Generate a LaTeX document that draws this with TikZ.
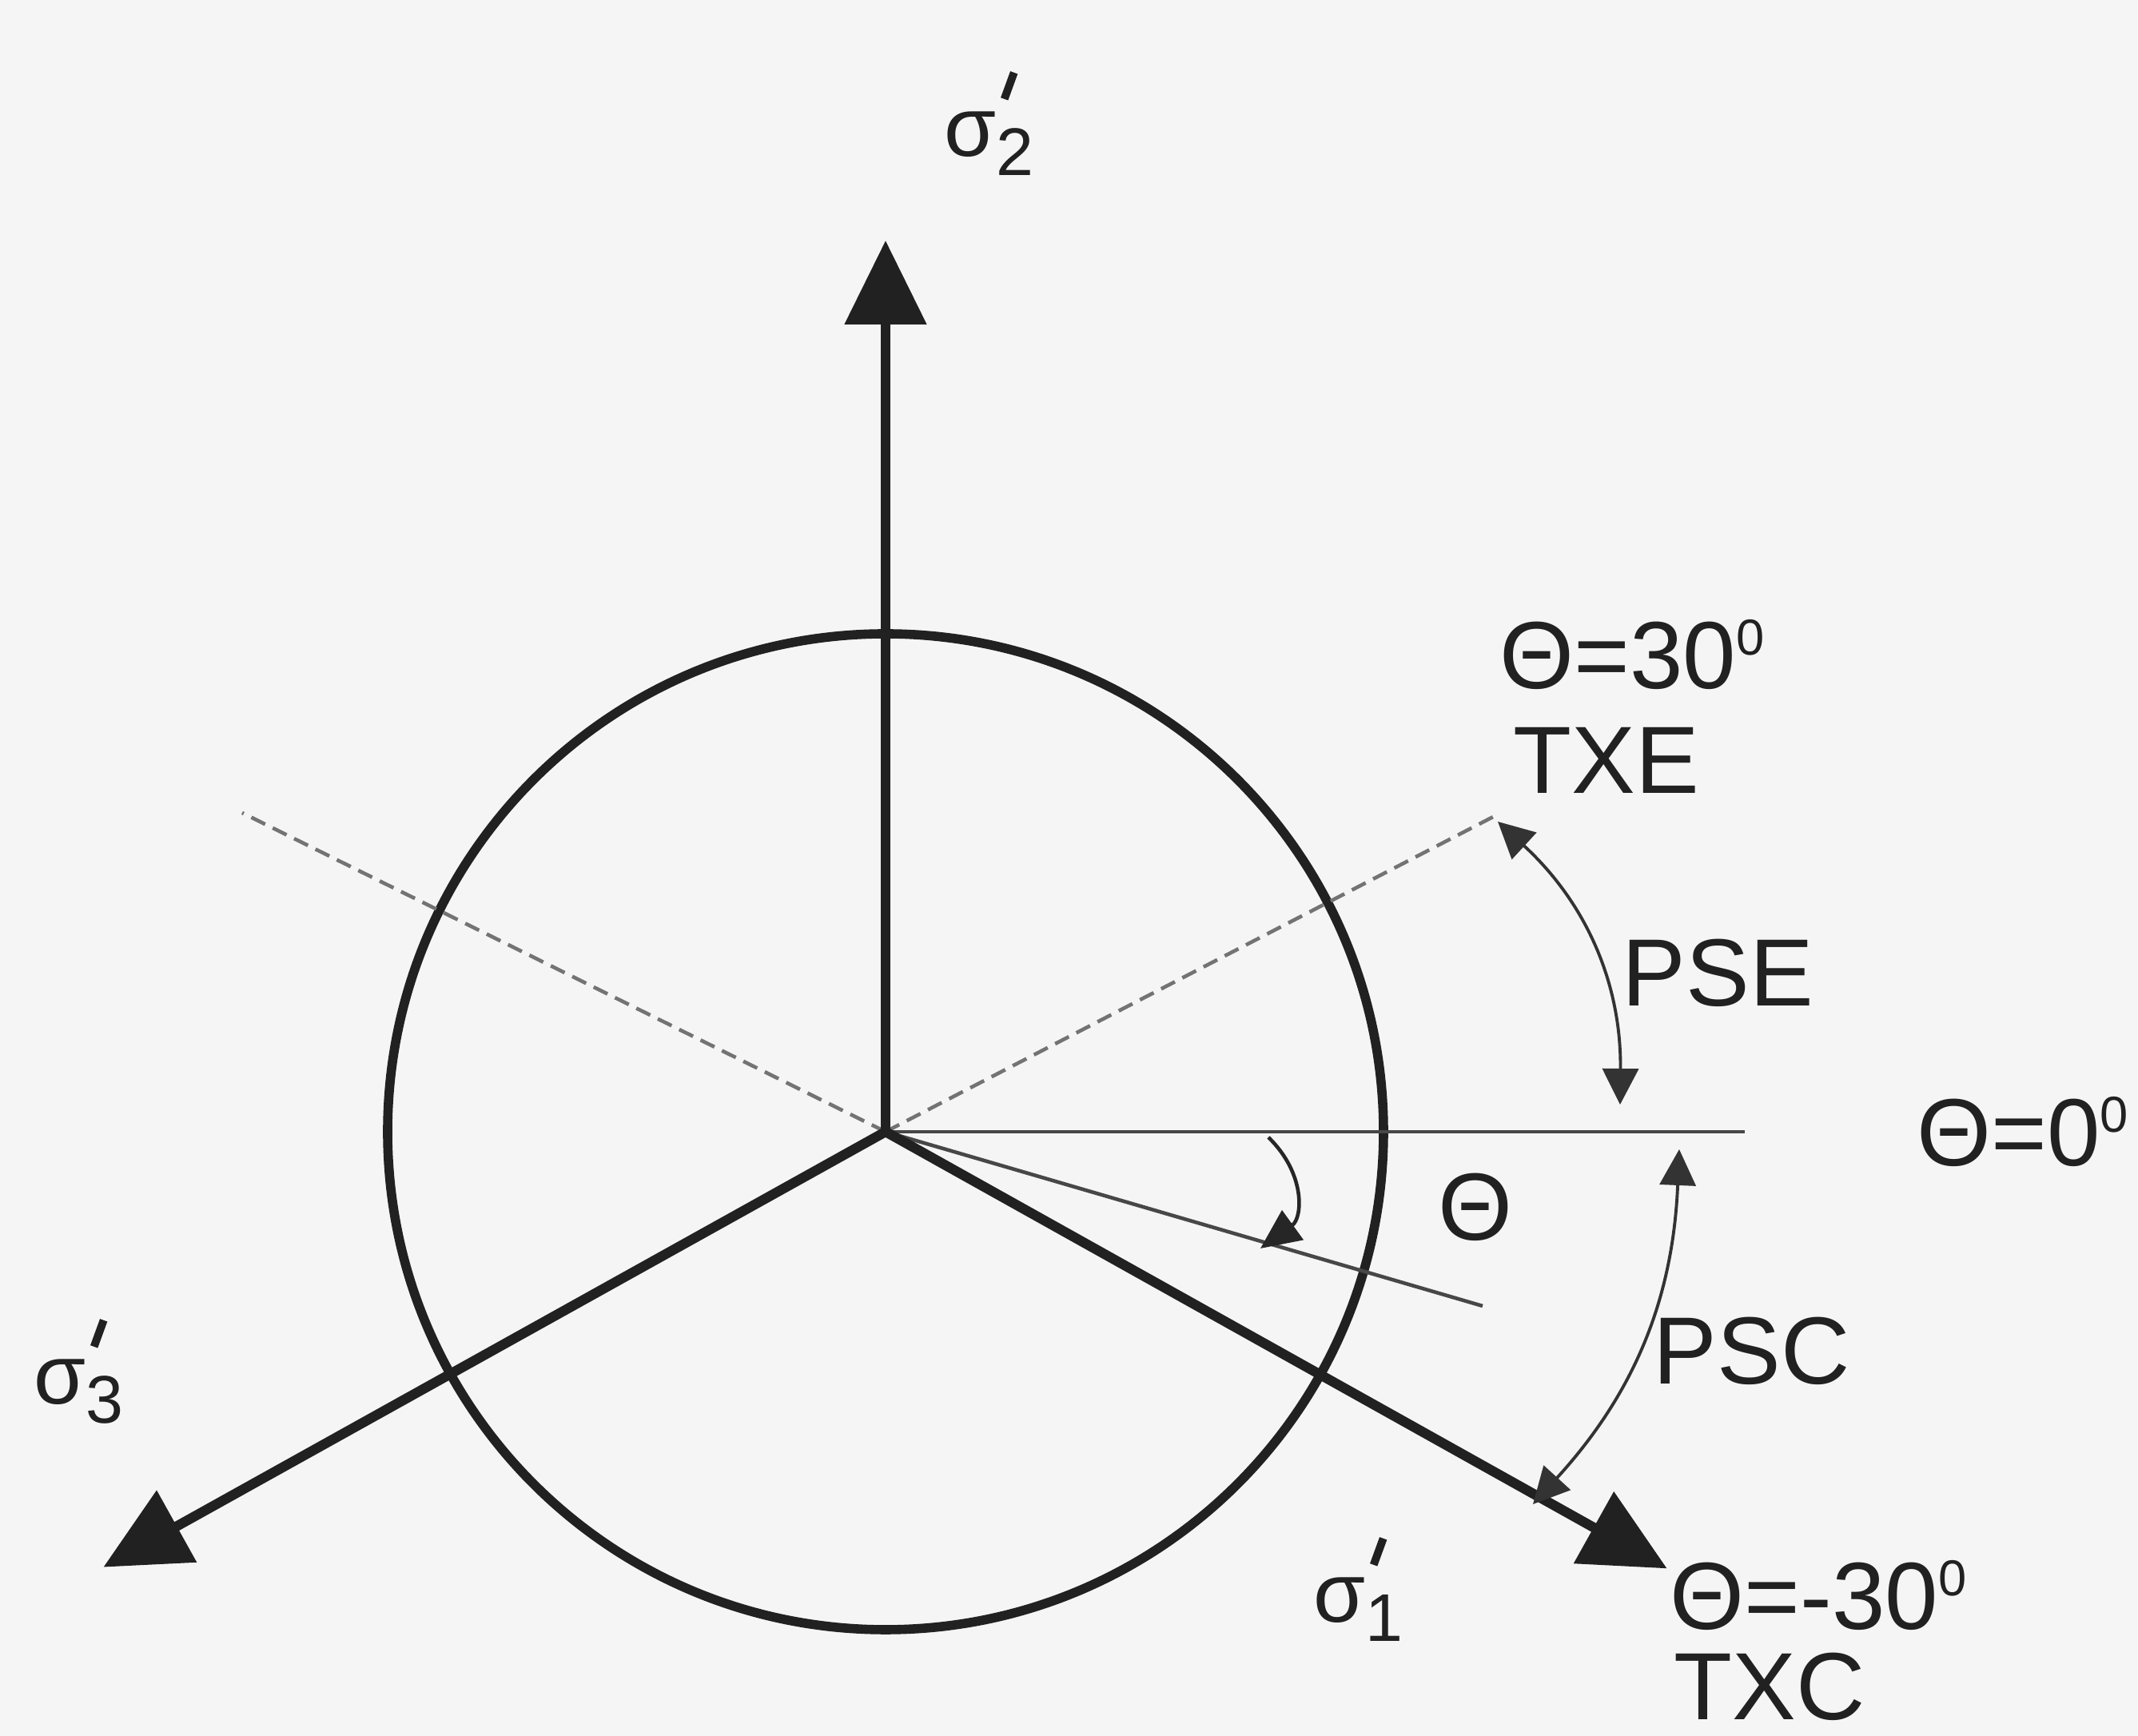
\documentclass[tikz,border=0pt]{standalone}
\usepackage{fontspec}
\setmainfont{Liberation Sans}
\usetikzlibrary{arrows.meta}
\newcommand{\sigm}[1]{{\fontsize{30}{30}\selectfont σ\rlap{\kern1.5pt\raisebox{0.7em}{\rotatebox{-20}{\rule{2.8pt}{10pt}}}}\raisebox{-0.22em}{\fontsize{24}{24}\selectfont #1}}}
\newcommand{\dg}{\raisebox{12pt}{\fontsize{18}{18}\selectfont 0}}

\begin{document}
\begin{tikzpicture}[x=1cm,y=1cm,font=\fontsize{34}{40}\selectfont]
  \tikzset{
    axis/.style={line width=3.5pt,draw=black!87,
      -{Triangle[length=1.05cm,width=1.0cm]}},
    ring/.style={line width=3.3pt,draw=black!87},
    ref/.style={line width=1.3pt,draw=black!72},
    guide/.style={line width=1.3pt,draw=black!55,dash pattern=on 5.5pt off 3pt},
    span/.style={line width=1.1pt,draw=black!80,
      {Triangle[length=0.45cm,width=0.45cm]}-{Triangle[length=0.45cm,width=0.45cm]}},
    lbl/.style={anchor=base west,inner sep=0pt,text=black!87}
  }
  \fill[black!4] (-11.08,-7.56) rectangle (15.67,14.16);
  \useasboundingbox (-11.08,-7.56) rectangle (15.67,14.16);

  \coordinate (O) at (0,0);
  \coordinate (s2) at (90:11.15);
  \coordinate (s3) at (209.1:11.2);
  \coordinate (s1) at (-29.2:11.2);
  \coordinate (dl) at (-8.05,3.99);
  \coordinate (dr) at (7.64,3.96);
  \coordinate (h0) at (10.75,0);
  \coordinate (th) at (7.47,-2.18);

  % deviatoric plane
  \draw[ring] (O) circle (6.23);
  \draw[guide] (O) -- (dl);
  \draw[guide] (O) -- (dr);
  \draw[ref] (O) -- (h0);
  \draw[ref] (O) -- (th);
  \draw[axis] (O) -- (s2);
  \draw[axis] (O) -- (s3);
  \draw[axis] (O) -- (s1);

  % angle spans
  \coordinate (thA) at (4.79,-0.07);
  \coordinate (thB) at (4.69,-1.46);
  \draw[ref,draw=black!85,-{Triangle[length=0.5cm,width=0.45cm]}]
    (thA) to[bend left=50,looseness=1.2] (thB);
  \coordinate (pseA) at (7.66,3.88);
  \coordinate (pseB) at (9.19,0.34);
  \draw[span] (pseA) to[bend left=24] (pseB);
  \coordinate (pscA) at (9.93,-0.22);
  \coordinate (pscB) at (8.10,-4.66);
  \draw[span] (pscA) to[bend left=20] (pscB);

  \node[lbl] (l2) at (0.73,12.2) {\sigm{2}};
  \node[lbl] (l3) at (-10.66,-3.41) {\sigm{3}};
  \node[lbl] (l1) at (5.35,-6.14) {\sigm{1}};
  \node[lbl] (tp) at (7.68,5.54) {Θ=30\dg};
  \node[lbl] (txe) at (7.85,4.23) {TXE};
  \node[lbl] (pse) at (9.21,1.57) {PSE};
  \node[lbl] (t0) at (12.9,-0.43) {Θ=0\dg};
  \node[lbl] (tha) at (6.91,-1.36) {Θ};
  \node[lbl] (psc) at (9.60,-3.16) {PSC};
  \node[lbl] (tm) at (9.81,-6.23) {Θ=-30\dg};
  \node[lbl] (txc) at (9.86,-7.36) {TXC};
\end{tikzpicture}
\end{document}
